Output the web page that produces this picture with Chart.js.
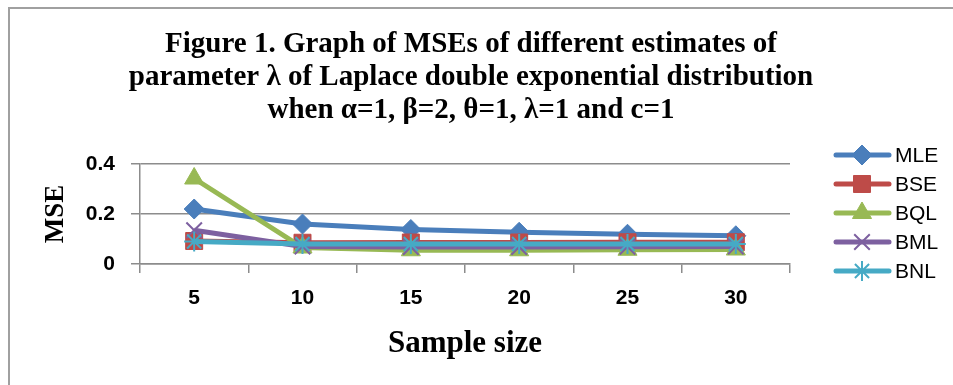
<!DOCTYPE html>
<html><head><meta charset="utf-8">
<script src="https://cdn.jsdelivr.net/npm/chart.js@4"></script>
<style>
html,body{margin:0;padding:0;background:#fff;overflow:hidden}
#wrap{position:relative;width:953px;height:385px;background:#fff}
#frame{position:absolute;left:8px;top:7px;width:2000px;height:2000px;border-left:2px solid #a0a0a0;border-top:2px solid #a0a0a0;pointer-events:none}
canvas{position:absolute;left:0;top:0}
</style></head><body>
<div id="wrap"><canvas id="c" width="953" height="385"></canvas><div id="frame"></div></div>
<script>
const categories = ['5','10','15','20','25','30'];
const yTicks = [0, 0.2, 0.4];
const seriesNames = ['MLE','BSE','BQL','BML','BNL'];
const mleValues = [0.220, 0.160, 0.138, 0.127, 0.119, 0.113];
const bseValues = [0.092, 0.085, 0.086, 0.086, 0.087, 0.087];
const bqlValues = [0.342, 0.066, 0.055, 0.055, 0.057, 0.058];
const bmlValues = [0.135, 0.070, 0.068, 0.068, 0.069, 0.070];
const bnlValues = [0.090, 0.080, 0.080, 0.080, 0.080, 0.080];
const titleLines = ['Figure 1. Graph of MSEs of different estimates of',
  'parameter \u03bb of Laplace double exponential distribution',
  'when \u03b1=1, \u03b2=2, \u03b8=1, \u03bb=1 and c=1'];

const styles = [
  {color:'#4a7ebb', pointStyle:'rectRot', radius:10, bw:1},
  {color:'#be4b48', pointStyle:'rect', radius:12, bw:1},
  {color:'#98b954', pointStyle:'triangle', radius:11, bw:1},
  {color:'#7d60a0', pointStyle:'crossRot', radius:11, bw:2},
  {color:'#46aac5', pointStyle:'star', radius:10, bw:2}
];
const values = [mleValues, bseValues, bqlValues, bmlValues, bnlValues];

const datasets = seriesNames.map((name, i) => ({
  label: name,
  data: values[i],
  borderColor: styles[i].color,
  backgroundColor: styles[i].color,
  borderWidth: 5,
  pointStyle: styles[i].pointStyle,
  pointRadius: styles[i].radius,
  pointHoverRadius: styles[i].radius,
  pointBackgroundColor: styles[i].color,
  pointBorderColor: styles[i].color,
  pointBorderWidth: styles[i].bw,
  tension: 0,
  fill: false,
  order: 5 - i,
  yAxisID: 'y'
}));

function drawMarker(ctx, st, x, y) {
  ctx.save();
  ctx.fillStyle = st.color; ctx.strokeStyle = st.color; ctx.lineWidth = st.bw;
  if (Chart.helpers && Chart.helpers.drawPoint) {
    Chart.helpers.drawPoint(ctx, {pointStyle: st.pointStyle, radius: st.radius, borderWidth: st.bw, rotation: 0}, x, y);
  }
  ctx.restore();
}

const customLegend = {
  id: 'customLegend',
  afterDraw(chart) {
    const ctx = chart.ctx;
    chart.data.datasets.forEach((ds, i) => {
      const y = 155 + i * 29;
      const st = styles[i];
      ctx.save();
      ctx.strokeStyle = st.color; ctx.lineWidth = 5; ctx.lineCap = 'round';
      ctx.beginPath(); ctx.moveTo(836, y); ctx.lineTo(889, y); ctx.stroke();
      ctx.restore();
      drawMarker(ctx, st, 862, y);
      ctx.save();
      ctx.fillStyle = '#000';
      ctx.font = '21px "Liberation Sans", Arial, sans-serif';
      ctx.textBaseline = 'middle'; ctx.textAlign = 'left';
      ctx.fillText(ds.label, 895, y + 1);
      ctx.restore();
    });
  }
};

const gridColor = '#8c8c8c';
new Chart(document.getElementById('c'), {
  type: 'line',
  data: { labels: categories, datasets },
  options: {
    responsive: false, animation: false, devicePixelRatio: 1,
    layout: { padding: { left: 0, right: 11, top: 0, bottom: 0 } },
    plugins: {
      legend: { display: false },
      tooltip: { enabled: false },
      title: {
        display: true, text: titleLines, color: '#000',
        font: { family: '"Liberation Serif", "Times New Roman", serif', size: 29, weight: 'bold', lineHeight: 33/29 },
        padding: { top: 28, bottom: 37 }
      }
    },
    scales: {
      x: {
        type: 'category', offset: true,
        grid: { offset: true, drawOnChartArea: false, drawTicks: true, tickLength: 9, color: gridColor, lineWidth: 1.5 },
        border: { display: true, color: gridColor, width: 1.5 },
        ticks: { color: '#000', padding: 13, maxRotation: 0, autoSkip: false,
          font: { family: '"Liberation Sans", Arial, sans-serif', size: 21, weight: 'bold' } },
        title: { display: true, text: 'Sample size', color: '#000',
          font: { family: '"Liberation Serif", "Times New Roman", serif', size: 31, weight: 'bold' },
          padding: { top: 0, bottom: 22 } },
        afterFit(s) { s.height = 121; }
      },
      y: {
        position: 'left', min: 0, max: 0.4,
        afterBuildTicks(s) { s.ticks = yTicks.map(v => ({ value: v })); },
        grid: { color: gridColor, lineWidth: 1.5, drawTicks: true, tickLength: 9 },
        border: { display: true, color: gridColor, width: 1.5 },
        ticks: { color: '#000', padding: 16,
          font: { family: '"Liberation Sans", Arial, sans-serif', size: 21, weight: 'bold' } },
        title: { display: true, text: 'MSE', color: '#000',
          font: { family: '"Liberation Serif", "Times New Roman", serif', size: 27, weight: 'bold' },
          padding: { top: 40, bottom: 0 } },
        afterFit(s) { s.width = 140; }
      },
      yR: {
        position: 'right', display: true,
        ticks: { display: false }, grid: { display: false }, border: { display: false },
        afterFit(s) { s.width = 152; }
      }
    }
  },
  plugins: [customLegend]
});
</script>
</body></html>
